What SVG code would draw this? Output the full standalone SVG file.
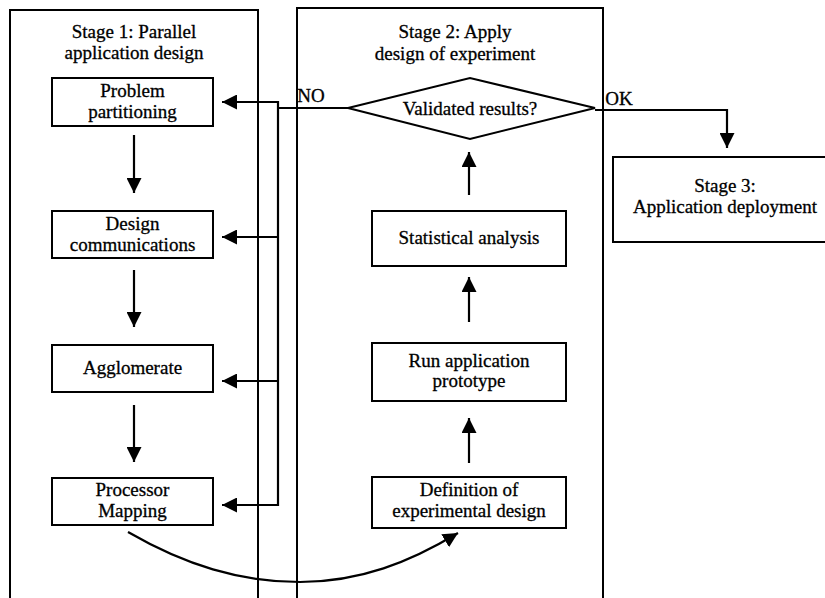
<svg xmlns="http://www.w3.org/2000/svg" width="825" height="598" viewBox="0 0 825 598" font-family="'Liberation Serif', 'Times New Roman', 'DejaVu Serif', serif">
<style>
.f{fill:none;stroke:#000;stroke-width:2}
.b{fill:#fff;stroke:#000;stroke-width:2}
.c{fill:none;stroke:#000;stroke-width:2.2}
.t{font-family:'Liberation Serif','Times New Roman','DejaVu Serif',serif;font-size:19px;fill:#000;stroke:#000;stroke-width:0.3;text-anchor:middle}
</style>
<defs>
<marker id="ah" markerUnits="userSpaceOnUse" markerWidth="15" markerHeight="15" refX="15" refY="7.5" orient="auto"><path d="M0,0 L15,7.5 L0,15 z" fill="#000"/></marker>
</defs>
<g id="stage1">
<rect class="f" x="10" y="10" width="248" height="600"/>
<text class="t" x="134" y="38">Stage 1: Parallel</text>
<text class="t" x="134" y="59">application design</text>
</g>
<g id="stage2">
<rect class="f" x="297" y="8" width="306" height="602"/>
<text class="t" x="455" y="38">Stage 2: Apply</text>
<text class="t" x="455" y="60">design of experiment</text>
</g>
<g id="stage3">
<rect class="f" x="613" y="157" width="230" height="85"/>
<text class="t" x="725" y="192">Stage 3:</text>
<text class="t" x="725" y="213">Application deployment</text>
</g>
<g id="problem">
<rect class="b" x="52" y="78" width="161" height="48"/>
<text class="t" x="132.5" y="97">Problem</text>
<text class="t" x="132.5" y="118">partitioning</text>
</g>
<g id="design">
<rect class="b" x="52" y="211" width="161" height="47"/>
<text class="t" x="132.5" y="230">Design</text>
<text class="t" x="132.5" y="251">communications</text>
</g>
<g id="agglomerate">
<rect class="b" x="52" y="345" width="161" height="47"/>
<text class="t" x="132.5" y="374">Agglomerate</text>
</g>
<g id="processor">
<rect class="b" x="52" y="478" width="161" height="47"/>
<text class="t" x="132.5" y="496">Processor</text>
<text class="t" x="132.5" y="517">Mapping</text>
</g>
<g id="validated">
<path class="b" d="M348,108 L470,78 L595,108 L470,139 Z"/>
<text class="t" x="470" y="115">Validated results?</text>
</g>
<g id="statistical">
<rect class="b" x="372" y="211" width="194" height="55"/>
<text class="t" x="469" y="244">Statistical analysis</text>
</g>
<g id="run">
<rect class="b" x="372" y="343" width="194" height="58"/>
<text class="t" x="469" y="367">Run application</text>
<text class="t" x="469" y="387">prototype</text>
</g>
<g id="definition">
<rect class="b" x="372" y="477" width="194" height="51"/>
<text class="t" x="469" y="496">Definition of</text>
<text class="t" x="469" y="517">experimental design</text>
</g>
<g id="connectors">
<path class="c" d="M134,135 L134,193" marker-end="url(#ah)"/>
<path class="c" d="M134,270 L134,327" marker-end="url(#ah)"/>
<path class="c" d="M134,405 L134,462" marker-end="url(#ah)"/>
<path class="c" d="M469,195 L469,152" marker-end="url(#ah)"/>
<path class="c" d="M469,322 L469,277" marker-end="url(#ah)"/>
<path class="c" d="M469,463 L469,418" marker-end="url(#ah)"/>
<path class="c" d="M348,108 L278,108"/>
<path class="c" d="M278,101 L278,506"/>
<path class="c" d="M279,102 L222,102" marker-end="url(#ah)"/>
<path class="c" d="M279,237 L222,237" marker-end="url(#ah)"/>
<path class="c" d="M279,381 L222,381" marker-end="url(#ah)"/>
<path class="c" d="M279,505 L222,505" marker-end="url(#ah)"/>
<path class="c" d="M595,110 L727,110 L727,148" marker-end="url(#ah)"/>
<path class="c" d="M128,532 C185,565 240,582 300,582 C360,582 410,562 458,533" marker-end="url(#ah)"/>
<text class="t" x="311" y="102">NO</text>
<text class="t" x="619" y="105">OK</text>
</g>
</svg>
